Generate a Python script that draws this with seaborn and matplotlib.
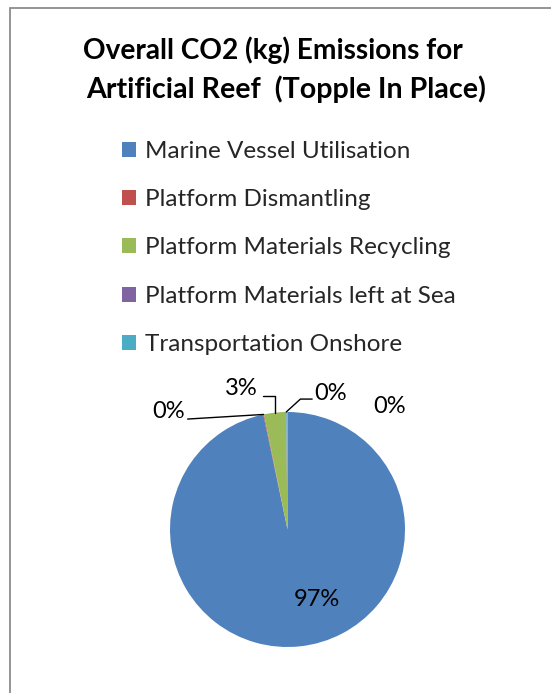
import numpy as np
import matplotlib
matplotlib.use("Agg")
import matplotlib.pyplot as plt
from matplotlib.patches import Rectangle
import seaborn as sns

categories = ["Marine Vessel Utilisation", "Platform Dismantling",
              "Platform Materials Recycling", "Platform Materials left at Sea",
              "Transportation Onshore"]
values = [96.7, 0.1, 3.0, 0.05, 0.15]
colors_hex = ["#4F81BD", "#C0504D", "#9BBB59", "#8064A2", "#4BACC6"]
title_lines = ["Overall CO2 (kg) Emissions for ", "Artificial Reef  (Topple In Place)"]

sns.set_theme(style="white")
plt.rcParams['font.family'] = ['Lato', 'DejaVu Sans']
palette = sns.color_palette(colors_hex)

W, H = 551, 693
fig = plt.figure(figsize=(W / 100, H / 100), dpi=100)

# border (Excel chart area)
fig.add_artist(Rectangle((10 / W, -0.1), 1.2, (H - 8) / H + 0.1,
                         transform=fig.transFigure, fill=False,
                         edgecolor="#8c8c8c", lw=1.3))

fig.text(276 / W, 1 - 50 / H, title_lines[0], ha="center", va="center",
         fontsize=20.2, fontweight="bold", color="black")
fig.text(286 / W, 1 - 89 / H, title_lines[1], ha="center", va="center",
         fontsize=20.6, fontweight="bold", color="black")

# pie axes
cx, cy, R = 287.5, 529.5, 117.5
ax = fig.add_axes([(cx - R) / W, (H - cy - R) / H, 2 * R / W, 2 * R / H])
wedges, _ = ax.pie(values, colors=palette, startangle=90, counterclock=False,
                   radius=1, wedgeprops=dict(linewidth=0))
ax.set_xlim(-1, 1)
ax.set_ylim(-1, 1)
ax.set_aspect("auto")
ax.axis("off")

total = sum(values)
pcts = [f"{round(v / total * 100):.0f}%" for v in values]

def edge_point(i, r=1.0):
    w = wedges[i]
    ang = np.deg2rad((w.theta1 + w.theta2) / 2)
    return r * np.cos(ang), r * np.sin(ang)

kw = dict(fontsize=17, color="black", ha="center", va="center", clip_on=False)
lkw = dict(color="black", lw=1.0, clip_on=False)

# Marine vessel
ax.text(0.25, -0.60, pcts[0], **kw)
# Dismantling
px, py = edge_point(1)
ax.plot([-0.85, px], [0.94, py], **lkw)
ax.text(-1.01, 1.00, pcts[1], **kw)
# Recycling
px, py = edge_point(2)
ax.plot([-0.21, px, px], [1.14, 1.14, py], **lkw)
ax.text(-0.39, 1.20, pcts[2], **kw)
# Left at sea
px, py = edge_point(3)
ax.plot([0.21, 0.11, px], [1.11, 1.11, py], **lkw)
ax.text(0.37, 1.16, pcts[3], **kw)
# Transportation
ax.text(0.87, 1.05, pcts[4], **kw)

# legend
fig.legend(handles=wedges, labels=categories, loc="upper left",
           bbox_to_anchor=(122 / W, 1 - 141 / H), frameon=False,
           fontsize=17.5, handlelength=0.58, handleheight=0.58,
           handletextpad=0.35, labelspacing=1.12, borderpad=0, borderaxespad=0)

fig.savefig("out.png", dpi=100, facecolor="white")
